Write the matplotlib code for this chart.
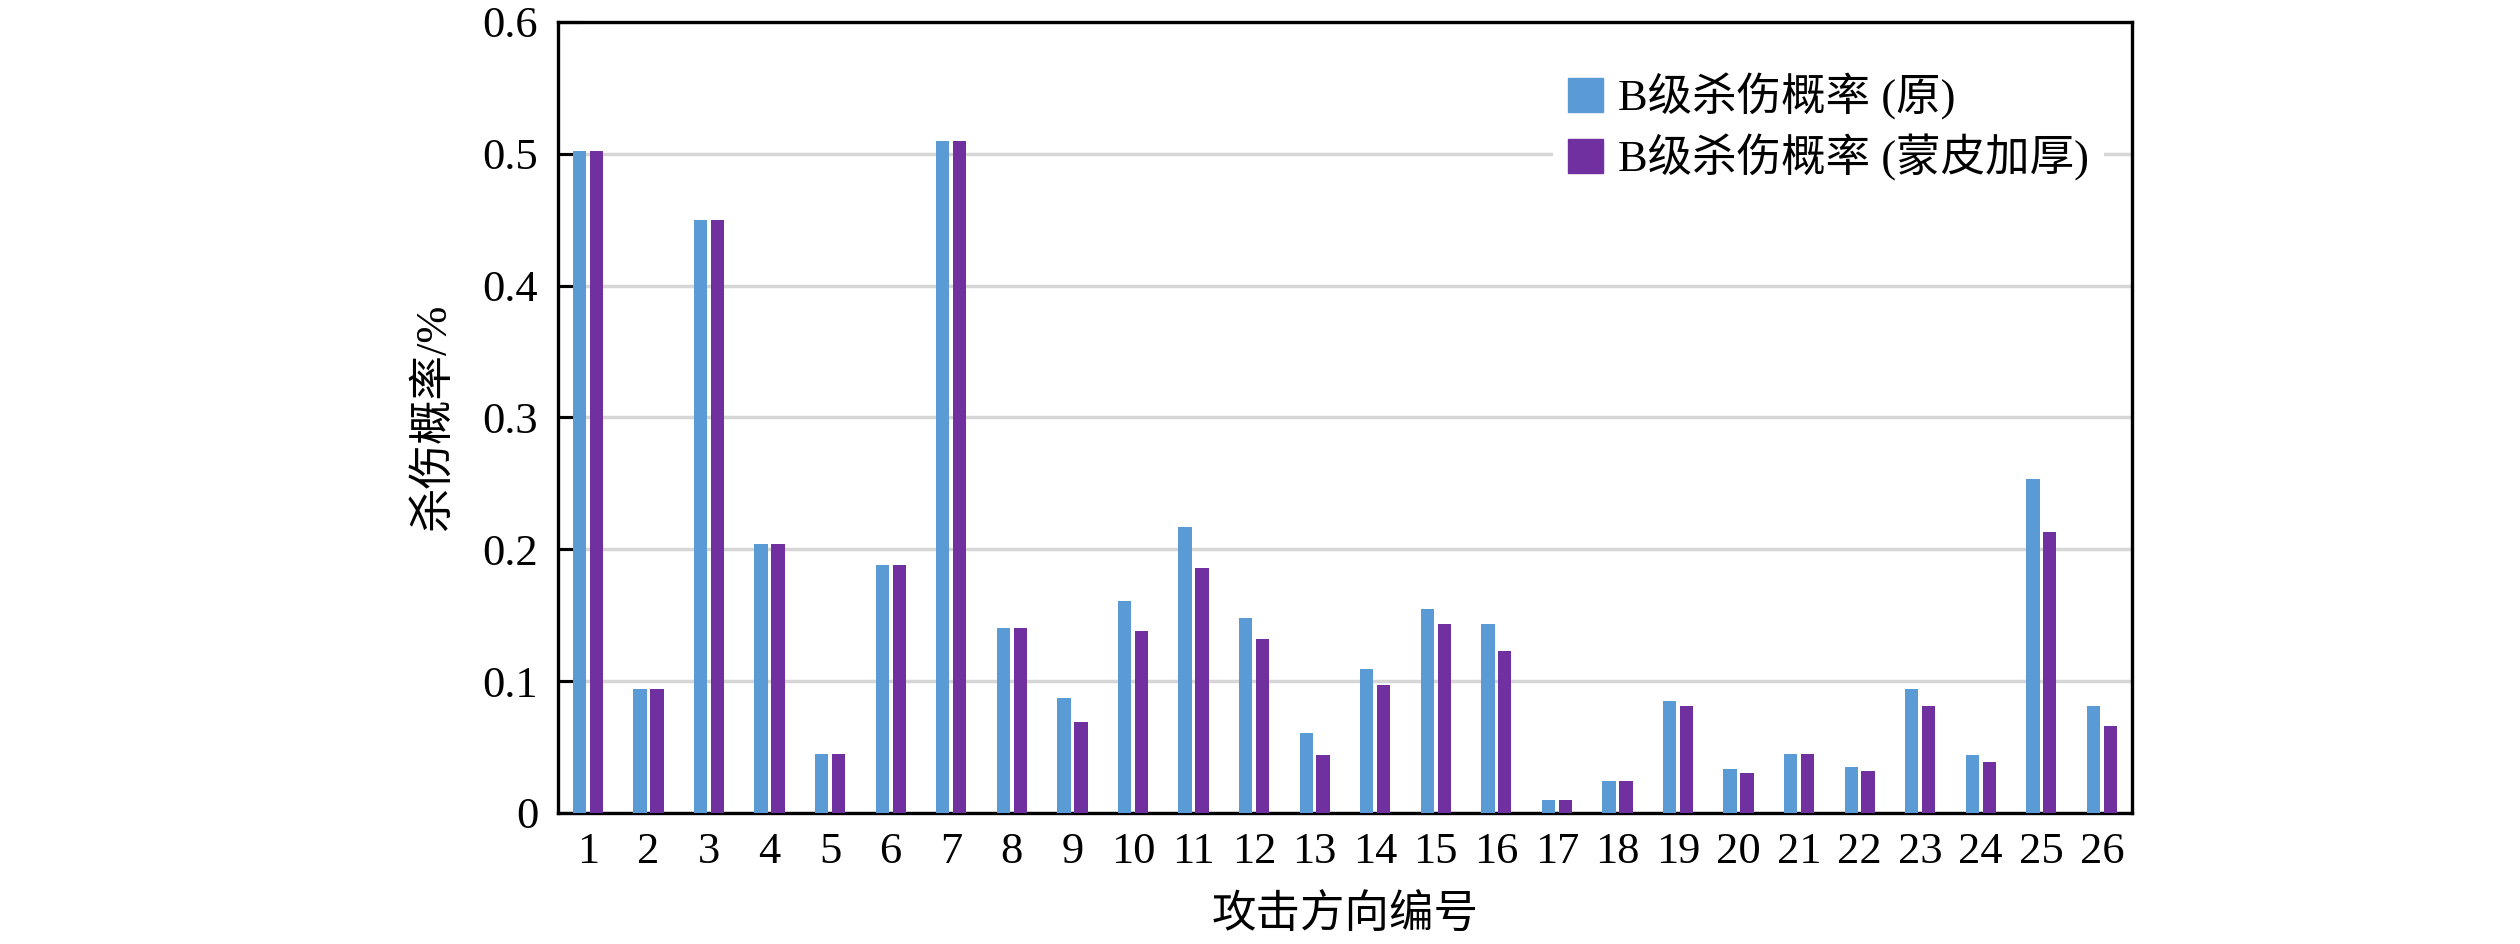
import numpy as np
import matplotlib
matplotlib.use("Agg")
import matplotlib.pyplot as plt
from matplotlib.patches import Patch

plt.rcParams['font.family'] = ['Liberation Serif', 'Noto Sans CJK SC']

# attack direction number 1..26
directions = list(range(1, 27))
# B-level kill probability, original
kill_orig = [0.502, 0.094, 0.450, 0.204, 0.045, 0.188, 0.510, 0.140, 0.087, 0.161,
             0.217, 0.148, 0.061, 0.109, 0.155, 0.143, 0.010, 0.024, 0.085, 0.033,
             0.045, 0.035, 0.094, 0.044, 0.253, 0.081]
# B-level kill probability, thickened skin
kill_thick = [0.502, 0.094, 0.450, 0.204, 0.045, 0.188, 0.510, 0.140, 0.069, 0.138,
              0.186, 0.132, 0.044, 0.097, 0.143, 0.123, 0.010, 0.024, 0.081, 0.030,
              0.045, 0.032, 0.081, 0.039, 0.213, 0.066]
yticks = [0, 0.1, 0.2, 0.3, 0.4, 0.5, 0.6]
ytick_labels = ["0", "0.1", "0.2", "0.3", "0.4", "0.5", "0.6"]
series_names = ["B级杀伤概率 (原)", "B级杀伤概率 (蒙皮加厚)"]
c_blue = "#5B9BD5"; c_purple = "#7030A0"

fig = plt.figure(figsize=(25.2, 9.44), dpi=100)
ax = fig.add_axes([0.2213, 0.1388, 0.6248, 0.8379])

x = np.array(directions, float)
ax.bar(x - 0.14, kill_orig, width=0.22, color=c_blue, zorder=3)
ax.bar(x + 0.14, kill_thick, width=0.22, color=c_purple, zorder=3)

ax.set_xlim(0.5, 26.5); ax.set_ylim(0, 0.6)
ax.set_yticks(yticks); ax.set_yticklabels(ytick_labels)
ax.set_xticks(directions); ax.set_xticklabels([str(d) for d in directions])
ax.yaxis.grid(True, color="#d6d6d6", lw=2.5, zorder=0)
ax.set_axisbelow(True)
ax.tick_params(axis="y", direction="in", length=17, width=2.2, labelsize=32, pad=14)
ax.tick_params(axis="x", length=0, labelsize=32, pad=14)
for s in ax.spines.values():
    s.set_linewidth(2.4); s.set_color("black")

ax.set_ylabel("杀伤概率/%", fontsize=32)
ax.yaxis.set_label_coords(-0.066, 0.5)
ax.set_xlabel("攻击方向编号", fontsize=32)
ax.xaxis.set_label_coords(0.5, -0.103)

handles = [Patch(color=c_blue), Patch(color=c_purple)]
ax.legend(handles, series_names, loc="upper left", bbox_to_anchor=(0.632, 0.955),
          fontsize=32, frameon=True, facecolor="white", edgecolor="none", framealpha=1,
          fancybox=False, handlelength=0.77, handleheight=0.8, handletextpad=0.34,
          labelspacing=0.3, borderpad=0.35, borderaxespad=0)

fig.savefig("out.png", dpi=100, facecolor="white")
